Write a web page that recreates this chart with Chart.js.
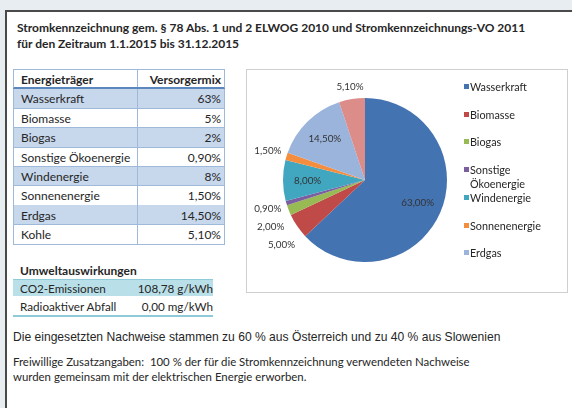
<!DOCTYPE html>
<html>
<head>
<meta charset="utf-8">
<script src="https://cdn.jsdelivr.net/npm/chart.js@4.4.0/dist/chart.umd.min.js"></script>
<style>
  html, body { margin: 0; padding: 0; }
  body {
    width: 572px; height: 408px; overflow: hidden; position: relative;
    background: #e8edf2; font-family: Lato, sans-serif; color: #262626;
  }
  #panel {
    position: absolute; left: 5px; top: 10px; width: 620px; height: 440px;
    background: #fff; border-left: 2px solid #4a4a4a; border-top: 2px solid #4a4a4a;
  }
  .abs { position: absolute; }
  #title { left: 17px; top: 20px; font-weight: bold; font-size: 12px; line-height: 16px; white-space: nowrap; }
  #mixTable { left: 13px; top: 69px; width: 212px; font-size: 12px; }
  .row { position: absolute; left: 0; width: 212px; box-sizing: border-box;
         border-left: 1px solid #9fb9da; border-right: 1px solid #9fb9da; border-bottom: 1px solid #9fb9da; }
  .row span { position: absolute; top: 50%; transform: translateY(-50%); white-space: nowrap; }
  .row .name { left: 7px; }
  .row .val { right: 3px; }
  .row .sep { position: absolute; left: 123px; top: 0; bottom: 0; width: 1px; background: #9fb9da; }
  .head { font-weight: bold; border-top: 1px solid #9fb9da; border-bottom: 2px solid #5b87bf; }
  .shade { background: #c7d7ec; }
  #impactHead { left: 20px; top: 263px; font-weight: bold; font-size: 12px; line-height: 16px; }
  #impactTable { left: 13px; top: 279px; width: 200px; font-size: 11.7px; }
  .irow { position: absolute; left: 0; width: 200px; box-sizing: border-box; }
  .irow span { position: absolute; top: 50%; transform: translateY(-50%); white-space: nowrap; }
  .irow .name { left: 7px; }
  .irow .val { right: 0; }
  #chartBox { left: 246px; top: 69px; width: 322px; height: 224px; box-sizing: border-box;
              border: 1px solid #cfcfcf; background: #fff; }
  #pieWrap { left: 247px; top: 70px; width: 320px; height: 222px; }
  #legend { left: 464px; top: 0; font-size: 10.8px; line-height: 14px; }
  .leg { position: absolute; left: 0; width: 92px; }
  .leg i { position: absolute; left: 0; top: 4px; width: 5px; height: 5px; }
  .leg span { display: block; margin-left: 6px; }
  #origin { left: 13px; top: 329px; font-family: "Liberation Sans", Arial, sans-serif; font-size: 12.1px; line-height: 16px; white-space: nowrap; }
  #extra { left: 13px; top: 354px; font-size: 11.4px; line-height: 15px; white-space: nowrap; }
</style>
</head>
<body>
<div id="panel"></div>
<div id="title" class="abs">Stromkennzeichnung gem. § 78 Abs. 1 und 2 ELWOG 2010 und Stromkennzeichnungs-VO 2011<br>für den Zeitraum 1.1.2015 bis 31.12.2015</div>
<div id="mixTable" class="abs"></div>
<div id="impactHead" class="abs">Umweltauswirkungen</div>
<div id="impactTable" class="abs"></div>
<div id="chartBox" class="abs"></div>
<div id="pieWrap" class="abs"><canvas id="mixChart" width="320" height="222"></canvas></div>
<div id="legend" class="abs"></div>
<div id="origin" class="abs">Die eingesetzten Nachweise stammen zu 60 % aus Österreich und zu 40 % aus Slowenien</div>
<div id="extra" class="abs">Freiwillige Zusatzangaben:&nbsp; 100 % der für die Stromkennzeichnung verwendeten Nachweise<br>wurden gemeinsam mit der elektrischen Energie erworben.</div>

<script>
// data
const sources = ["Wasserkraft", "Biomasse", "Biogas", "Sonstige Ökoenergie", "Windenergie", "Sonnenenergie", "Erdgas", "Kohle"];
const mixPercent = [63, 5, 2, 0.9, 8, 1.5, 14.5, 5.1];
const sliceColors = ["#4473b1", "#bf4a47", "#97ba55", "#7b5ea0", "#41a7c1", "#f48e3e", "#9bb4dc", "#dc8d8a"];
const legendCount = 7; // Kohle is cut off in the legend box
const impactNames = ["CO2-Emissionen", "Radioaktiver Abfall"];
const impactValues = [108.78, 0.00];
const impactUnits = ["g/kWh", "mg/kWh"];

function tableText(v) {
  return Number.isInteger(v) ? v + "%" : v.toFixed(2).replace(".", ",") + "%";
}
function pieText(v) {
  return v.toFixed(2).replace(".", ",") + "%";
}

// Versorgermix table
const mixTable = document.getElementById("mixTable");
const rowH = 19.4;
function addRow(name, val, top, h, cls) {
  const r = document.createElement("div");
  r.className = "row " + cls;
  r.style.top = top + "px";
  r.style.height = h + "px";
  r.innerHTML = '<span class="name">' + name + '</span><div class="sep"></div><span class="val">' + val + "</span>";
  mixTable.appendChild(r);
}
addRow("Energieträger", "Versorgermix", 0, 20, "head");
sources.forEach((s, i) => {
  addRow(s, tableText(mixPercent[i]), 20 + i * rowH, rowH + 0.5, i % 2 === 0 ? "shade" : "");
});

// Umweltauswirkungen
const impactTable = document.getElementById("impactTable");
impactNames.forEach((n, i) => {
  const r = document.createElement("div");
  r.className = "irow";
  r.style.top = (i * 17) + "px";
  r.style.height = (i === 0 ? 17 : 21) + "px";
  if (i === 0) { r.style.background = "#b9dfe9"; r.style.borderTop = "1px solid #8fcad9"; }
  else { r.style.borderBottom = "2px solid #8fcad9"; }
  r.innerHTML = '<span class="name">' + n + '</span><span class="val">' +
    impactValues[i].toFixed(2).replace(".", ",") + " " + impactUnits[i] + "</span>";
  impactTable.appendChild(r);
});

// legend
const legend = document.getElementById("legend");
for (let i = 0; i < legendCount; i++) {
  const item = document.createElement("div");
  item.className = "leg";
  item.style.top = (80 + i * 27.7) + "px";
  item.innerHTML = '<i style="background:' + sliceColors[i] + '"></i><span>' + sources[i] + "</span>";
  legend.appendChild(item);
}

// percentage labels around the pie
const sliceLabels = {
  id: "sliceLabels",
  afterDatasetsDraw(chart) {
    const ctx = chart.ctx;
    const meta = chart.getDatasetMeta(0);
    ctx.save();
    ctx.font = "9.8px Lato";
    ctx.fillStyle = "#333";
    ctx.textAlign = "center";
    ctx.textBaseline = "middle";
    const placed = [];
    // go backwards so small slices at the lower left push each other downwards
    for (let i = meta.data.length - 1; i >= 0; i--) {
      const v = mixPercent[i];
      const p = meta.data[i].getProps(["x", "y", "startAngle", "endAngle", "outerRadius"], true);
      const mid = (p.startAngle + p.endAngle) / 2;
      const dx = Math.cos(mid), dy = Math.sin(mid);
      const txt = pieText(v);
      const w = ctx.measureText(txt).width;
      if (v >= 8) {
        const d = p.outerRadius * 0.7;
        ctx.fillText(txt, p.x + dx * d, p.y + dy * d);
        continue;
      }
      const d = p.outerRadius + 5 + (w / 2) * Math.abs(dx) + 5 * Math.abs(dy);
      let lx = p.x + dx * d, ly = p.y + dy * d;
      placed.forEach(q => {
        if (Math.abs(q.x - lx) < (q.w + w) / 2 && Math.abs(q.y - ly) < 18) {
          ly = dy > 0 ? q.y + 18 : q.y - 18;
        }
      });
      placed.push({ x: lx, y: ly, w: w });
      ctx.fillText(txt, lx, ly);
    }
    ctx.restore();
  }
};

const mixChart = new Chart(document.getElementById("mixChart").getContext("2d"), {
  type: "pie",
  data: {
    labels: sources,
    datasets: [{
      data: mixPercent,
      backgroundColor: sliceColors,
      borderWidth: 0,
    }],
  },
  options: {
    responsive: false,
    animation: false,
    layout: { padding: { left: 36, right: 120, top: 28, bottom: 30 } },
    plugins: {
      legend: { display: false },
      tooltip: { enabled: false },
    },
  },
  plugins: [sliceLabels],
});
</script>
</body>
</html>
